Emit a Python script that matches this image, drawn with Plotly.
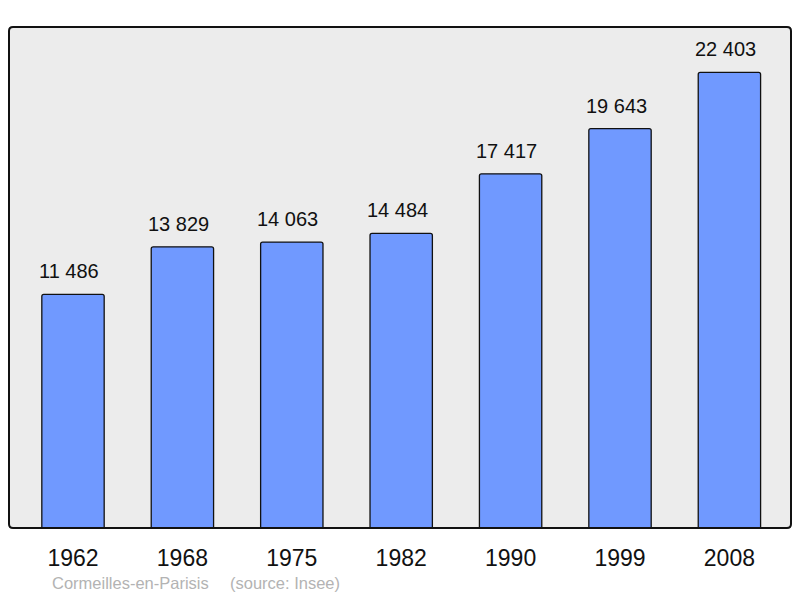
import plotly.graph_objects as go

years = ["1962", "1968", "1975", "1982", "1990", "1999", "2008"]
population = [11486, 13829, 14063, 14484, 17417, 19643, 22403]
place = "Cormeilles-en-Parisis"
source = "(source: Insee)"

W, H = 800, 598
ml, mr, mt, mb = 9, 9, 27, 70
pw, ph = W - ml - mr, H - mt - mb

xs = list(range(len(years)))
labels = [f"{v:,}".replace(",", " ") for v in population]
FONT = "Liberation Sans, Arial"

fig = go.Figure()
fig.add_trace(go.Bar(
    x=xs, y=population, width=0.57,
    marker=dict(color="#7099ff", line=dict(color="#111111", width=1.3), cornerradius=2),
    hoverinfo="skip",
))

for x, v, t in zip(xs, population, labels):
    fig.add_annotation(x=x, y=v, text=t, showarrow=False, yanchor="bottom",
                       yshift=10, xshift=-4,
                       font=dict(size=20, color="#111111", family=FONT))

# rounded plot border (paper coords)
r = 4
rx, ry = r / pw, r / ph
path = (f"M {rx},0 L {1-rx},0 Q 1,0 1,{ry} L 1,{1-ry} Q 1,1 {1-rx},1 "
        f"L {rx},1 Q 0,1 0,{1-ry} L 0,{ry} Q 0,0 {rx},0 Z")
fig.add_shape(type="path", path=path, xref="paper", yref="paper",
              line=dict(color="#111111", width=2), layer="above")

ysrc = (mt + ph - 583) / ph
fig.add_annotation(x=(50 - ml) / pw, y=ysrc, xref="paper", yref="paper",
                   text=place, showarrow=False, xanchor="left", yanchor="middle",
                   font=dict(size=16.5, color="#b3b3b3", family=FONT))
fig.add_annotation(x=(228 - ml) / pw, y=ysrc, xref="paper", yref="paper",
                   text=source, showarrow=False, xanchor="left", yanchor="middle",
                   font=dict(size=16.5, color="#b3b3b3", family=FONT))

fig.update_layout(
    width=W, height=H,
    margin=dict(l=ml, r=mr, t=mt, b=mb),
    paper_bgcolor="white", plot_bgcolor="#ececec",
    showlegend=False,
    font=dict(family=FONT, color="#111111"),
    xaxis=dict(range=[-0.585, 6.563], tickvals=xs, ticktext=years,
               tickfont=dict(size=23), showgrid=False, zeroline=False,
               ticks="outside", ticklen=9, tickcolor="rgba(0,0,0,0)", fixedrange=True),
    yaxis=dict(range=[0, 24637], showticklabels=False, showgrid=False, zeroline=False,
               fixedrange=True),
)

fig.write_html("out.html", config={"displayModeBar": False},
               post_script="document.body.style.margin='0';document.body.style.overflow='hidden';")
